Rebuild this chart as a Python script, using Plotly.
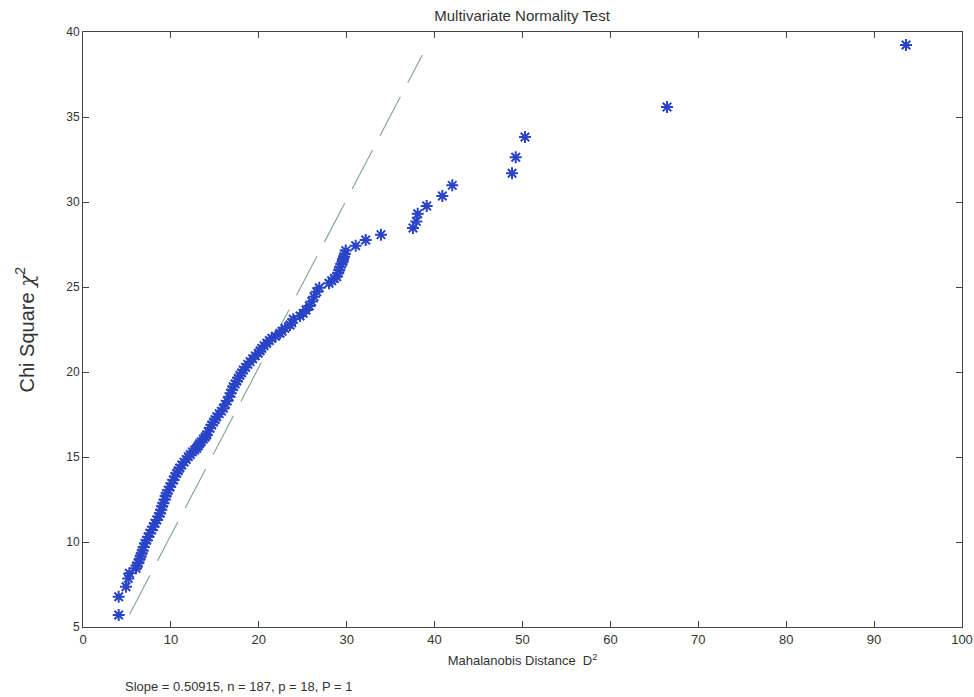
import plotly.graph_objects as go

# Mahalanobis distance D^2 (sorted) and chi-square quantiles
d2 = [4.06, 4.06, 4.89, 5.15, 5.27,
      6.03, 6.10, 6.29, 6.45, 6.55, 6.68, 6.80, 6.90, 7.05, 7.25,
      7.40, 7.62, 7.80, 8.00, 8.19, 8.40, 8.60, 8.76, 8.90, 9.00,
      9.14, 9.30, 9.40, 9.52, 9.70, 9.90, 10.09, 10.30, 10.45, 10.66,
      10.85, 11.00, 11.23, 11.50, 11.75, 11.98, 12.20, 12.45, 12.70, 12.93,
      13.10, 13.25, 13.45, 13.70, 13.90, 14.07, 14.25, 14.45, 14.64, 14.85,
      15.02, 15.21, 15.50, 15.75, 15.96, 16.20, 16.40, 16.64, 16.80, 16.95,
      17.10, 17.30, 17.50, 17.67, 17.85, 18.05, 18.24, 18.50, 18.75, 19.00,
      19.30, 19.60, 19.94, 20.15, 20.33, 20.60, 20.90, 21.20, 21.47, 21.90,
      22.41, 22.65, 22.98, 23.55, 23.75, 23.93, 24.69, 25.05, 25.37, 25.75,
      26.02, 26.28, 26.59, 26.88, 27.99, 28.29, 28.60, 28.86, 29.04, 29.15,
      29.24, 29.40, 29.54, 29.60, 29.69, 29.80, 29.89,
      31.02, 32.16, 33.90, 37.54, 37.92, 38.08, 39.10,
      40.88, 42.01, 48.81, 49.23, 50.28, 66.44, 93.63]
chi2 = [5.71, 6.78, 7.37, 7.86, 8.16,
        8.45, 8.60, 8.75, 9.00, 9.15, 9.34, 9.50, 9.70, 9.92, 10.10,
        10.30, 10.51, 10.70, 10.90, 11.10, 11.30, 11.50, 11.69, 11.90, 12.10,
        12.28, 12.50, 12.70, 12.86, 13.05, 13.25, 13.45, 13.65, 13.85, 14.04,
        14.20, 14.35, 14.53, 14.70, 14.85, 15.02, 15.15, 15.30, 15.41, 15.51,
        15.65, 15.78, 15.90, 16.05, 16.18, 16.29, 16.50, 16.70, 16.88, 17.05,
        17.20, 17.37, 17.55, 17.70, 17.86, 18.10, 18.30, 18.55, 18.75, 18.95,
        19.14, 19.30, 19.47, 19.63, 19.80, 19.95, 20.12, 20.28, 20.45, 20.61,
        20.78, 20.95, 21.10, 21.25, 21.39, 21.55, 21.69, 21.85, 21.98, 22.10,
        22.28, 22.40, 22.57, 22.76, 22.90, 23.10, 23.29, 23.45, 23.65, 23.88,
        24.14, 24.43, 24.72, 24.96, 25.22, 25.37, 25.50, 25.60, 25.84, 26.00,
        26.16, 26.35, 26.49, 26.65, 26.78, 26.95, 27.14,
        27.43, 27.76, 28.08, 28.47, 28.86, 29.31, 29.76,
        30.35, 30.98, 31.69, 32.63, 33.82, 35.59, 39.24]

# reference line
ref_x = [5.3, 38.6]
ref_y = [5.75, 38.65]

x_ticks = [0, 10, 20, 30, 40, 50, 60, 70, 80, 90, 100]
y_ticks = [5, 10, 15, 20, 25, 30, 35, 40]

title = "Multivariate Normality Test"
x_title = "Mahalanobis Distance  D<sup>2</sup>"
y_title = "Chi Square <span style='font-family:DejaVu Serif'><i>\u03c7</i></span><sup>2</sup>"
note = "Slope = 0.50915, n = 187, p = 18, P = 1"

FONT = "Liberation Sans Narrow, Arial Narrow, Liberation Sans, Arial, sans-serif"

fig = go.Figure()
fig.add_trace(go.Scatter(
    x=ref_x, y=ref_y, mode="lines",
    line=dict(color="#7fa58c", width=1.1, dash="44px,16px"),
    showlegend=False, hoverinfo="skip"))
fig.add_trace(go.Scatter(
    x=d2, y=chi2, mode="markers",
    marker=dict(symbol="asterisk-open", size=10, color="#2a44c8",
                line=dict(color="#2a44c8", width=2)),
    showlegend=False))

fig.update_layout(
    width=974, height=697,
    margin=dict(l=83, r=12, t=32, b=70),
    paper_bgcolor="white", plot_bgcolor="white",
    font=dict(family=FONT, size=12, color="#333333"),
    title=dict(text=title, x=0.536, xanchor="center", y=0.977, yanchor="middle",
               font=dict(family=FONT, size=15, color="#333333")),
    xaxis=dict(range=[0, 100], tickvals=x_ticks, ticks="inside", ticklen=6,
               tickcolor="#444444", showline=True, linecolor="#444444", linewidth=1,
               mirror="ticks", showgrid=False, zeroline=False, automargin=False,
               tickfont=dict(family=FONT, size=13, color="#333333"),
               title=dict(text=x_title, standoff=10,
                          font=dict(family=FONT, size=13, color="#333333"))),
    yaxis=dict(range=[5, 40], tickvals=y_ticks, ticks="inside", ticklen=6,
               tickcolor="#444444", showline=True, linecolor="#444444", linewidth=1,
               mirror="ticks", showgrid=False, zeroline=False, automargin=False,
               tickfont=dict(family="Liberation Sans, Arial, sans-serif", size=12,
                             color="#333333")),
    annotations=[
        dict(text=y_title, xref="paper", yref="paper", x=-0.066, y=0.5,
             xanchor="center", yanchor="middle", textangle=-90, showarrow=False,
             font=dict(family="Liberation Sans, Arial, sans-serif", size=20,
                       color="#333333")),
        dict(text=note, xref="paper", yref="paper", x=0.045, y=-0.1,
             xanchor="left", yanchor="middle", showarrow=False,
             font=dict(family=FONT, size=13, color="#333333")),
    ],
)

fig.write_html("out.html")
